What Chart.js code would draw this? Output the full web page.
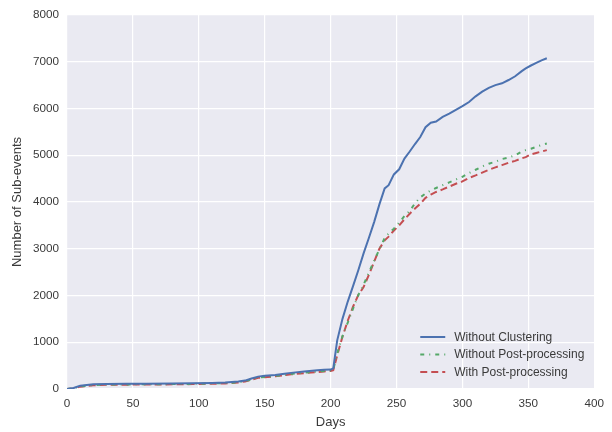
<!DOCTYPE html>
<html>
<head>
<meta charset="utf-8">
<script src="https://cdn.jsdelivr.net/npm/chart.js@4.4.0/dist/chart.umd.min.js"></script>
<style>
  body { margin: 0; background: #fff; }
  #wrap { width: 612px; height: 432px; }
</style>
</head>
<body>
<div id="wrap"><canvas id="c" width="612" height="432"></canvas></div>
<script>
// days on the x axis (shared by the three series)
let days = [0, 5, 10, 20, 30, 45, 60, 80, 95, 110, 120, 130, 135, 140, 145,
    150, 158, 165, 170, 180, 190, 195, 200, 202, 205, 209, 213, 217, 221, 225,
    229, 233, 237, 241, 244, 248, 252, 256, 260, 264, 268, 272, 276, 280, 285,
    290, 295, 300, 305, 310, 315, 320, 325, 330, 335, 340, 345, 348, 352, 356,
    360, 364];

let withoutClustering = [0, 20, 70, 100, 108, 110, 113, 118, 122, 130, 138, 160, 180, 225, 265,
    285, 300, 325, 345, 372, 400, 410, 415, 440, 1040, 1500, 1870, 2200, 2540, 2900,
    3230, 3570, 3950, 4290, 4360, 4590, 4700, 4930, 5080, 5240, 5390, 5600, 5697, 5720, 5820,
    5890, 5970, 6050, 6140, 6260, 6360, 6440, 6500, 6540, 6610, 6690, 6800, 6860, 6920, 6975,
    7030, 7075];

let withoutPost = [0, 15, 55, 85, 95, 98, 100, 105, 110, 118, 125, 145, 165, 205, 245,
    258, 280, 300, 322, 348, 372, 385, 395, 410, 760, 1130, 1420, 1720, 2010, 2230,
    2490, 2740, 2990, 3230, 3330, 3430, 3560, 3700, 3810, 3970, 4100, 4180, 4250, 4300, 4360,
    4420, 4480, 4540, 4620, 4690, 4760, 4820, 4860, 4920, 4950, 5000, 5080, 5110, 5140, 5180,
    5220, 5250];

let withPost = [0, 10, 50, 80, 90, 93, 95, 100, 105, 112, 120, 140, 160, 198, 238,
    250, 272, 292, 314, 340, 362, 375, 385, 400, 720, 1120, 1460, 1760, 2010, 2180,
    2440, 2720, 3000, 3180, 3260, 3390, 3500, 3630, 3750, 3860, 3960, 4090, 4160, 4215, 4270,
    4330, 4390, 4440, 4515, 4570, 4630, 4690, 4740, 4790, 4840, 4880, 4935, 4960, 5020, 5050,
    5080, 5110];

let xTicks = [0, 50, 100, 150, 200, 250, 300, 350, 400];
let yTicks = [0, 1000, 2000, 3000, 4000, 5000, 6000, 7000, 8000];

let seriesNames = ['Without Clustering', 'Without Post-processing', 'With Post-processing'];

const FONT = "'Liberation Sans', Arial, sans-serif";
const TEXT = '#3a3a3a';

const toPoints = (vals) => days.map((d, i) => ({ x: d, y: vals[i] }));

const serie = (label, vals, color, dash) => {
    return {
        label,
        data: toPoints(vals),
        borderColor: color,
        backgroundColor: color,
        borderWidth: 2,
        borderDash: dash,
        pointRadius: 0,
        tension: 0,
        fill: false
    }
}

// legend drawn inside the plot, lower right, no frame (like seaborn)
const insideLegend = {
    id: 'insideLegend',
    afterDatasetsDraw(chart) {
        let ctx = chart.ctx,
            area = chart.chartArea,
            rows = [-52, -34.5, -17];
        ctx.save();
        chart.data.datasets.forEach((ds, i) => {
            let y = area.bottom + rows[i];
            ctx.beginPath();
            ctx.strokeStyle = ds.borderColor;
            ctx.lineWidth = 2;
            ctx.setLineDash(ds.borderDash || []);
            ctx.moveTo(area.right - 174, y);
            ctx.lineTo(area.right - 149, y);
            ctx.stroke();
            ctx.setLineDash([]);
            ctx.fillStyle = TEXT;
            ctx.font = "12px " + FONT;
            ctx.textBaseline = 'middle';
            ctx.textAlign = 'left';
            ctx.fillText(ds.label, area.right - 140, y + 0.5);
        });
        ctx.restore();
    }
}

const plotBg = {
    id: 'plotBg',
    beforeDraw(chart) {
        let a = chart.chartArea, ctx = chart.ctx;
        ctx.save();
        ctx.fillStyle = '#EAEAF2';
        ctx.fillRect(a.left, a.top, a.right - a.left, a.bottom - a.top);
        ctx.restore();
    }
}

new Chart(document.getElementById('c').getContext('2d'), {
    type: 'line',
    data: {
        datasets: [
            serie(seriesNames[0], withoutClustering, '#4C72B0', []),
            serie(seriesNames[1], withoutPost, '#55A868', [4, 5, 1, 5]),
            serie(seriesNames[2], withPost, '#C44E52', [7, 4])
        ]
    },
    options: {
        responsive: false,
        animation: false,
        layout: { padding: { left: 0, right: 16, top: 15, bottom: 0 } },
        plugins: {
            legend: { display: false },
            tooltip: { enabled: false }
        },
        scales: {
            x: {
                type: 'linear',
                min: 0,
                max: 400,
                afterBuildTicks: (s) => { s.ticks = xTicks.map(v => ({ value: v })); },
                afterFit: (s) => { s.height = 43; },
                border: { display: false },
                grid: { color: '#ffffff', lineWidth: 1.2, drawTicks: false },
                ticks: { padding: 8, color: TEXT, font: { family: FONT, size: 11.7 }, maxRotation: 0 },
                title: { display: true, text: 'Days', color: TEXT, font: { family: FONT, size: 13 }, padding: { top: 0, bottom: 2 } }
            },
            y: {
                type: 'linear',
                min: 0,
                max: 8000,
                afterBuildTicks: (s) => { s.ticks = yTicks.map(v => ({ value: v })); },
                afterFit: (s) => { s.width = 67; },
                border: { display: false },
                grid: { color: '#ffffff', lineWidth: 1.2, drawTicks: false },
                ticks: { padding: 8, color: TEXT, font: { family: FONT, size: 11.7 }, callback: (v) => String(v) },
                title: { display: true, text: 'Number of Sub-events', color: TEXT, font: { family: FONT, size: 13 }, padding: { top: 10, bottom: 0 } }
            }
        }
    },
    plugins: [plotBg, insideLegend]
});
</script>
</body>
</html>
